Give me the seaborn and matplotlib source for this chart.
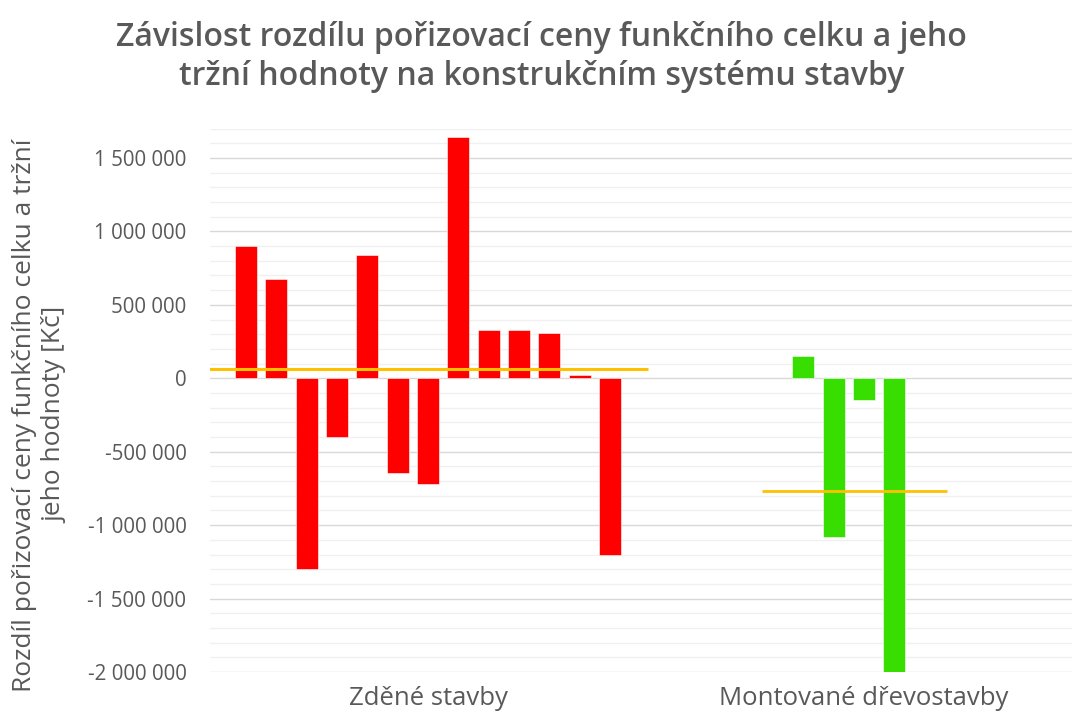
import matplotlib
matplotlib.use("Agg")
import matplotlib.pyplot as plt
import matplotlib.ticker as mticker
import numpy as np
import pandas as pd
import seaborn as sns

# ---- data ----
categories = ["Zděné stavby", "Montované dřevostavby"]
zdene_values = [900000, 675000, -1300000, -400000, 840000, -648000, -719000,
                1646000, 331000, 331000, 311000, 20000, -1204000]
zdene_slots = list(range(13))
drevo_values = [154000, -1084000, -150000, -2000000]
drevo_slots = [4, 5, 6, 7]
title_text = ("Závislost rozdílu pořizovací ceny funkčního celku a jeho\n"
              "tržní hodnoty na konstrukčním systému stavby")
ylabel_text = "Rozdíl pořizovací ceny funkčního celku a tržní\njeho hodnoty [Kč]"

red = "#FF0000"
green = "#37DE00"
orange = "#FFC000"
text_gray = "#595959"

df = pd.DataFrame({
    "kategorie": [categories[0]] * len(zdene_values) + [categories[1]] * len(drevo_values),
    "slot": zdene_slots + drevo_slots,
    "hodnota": zdene_values + drevo_values,
})

sns.set_theme(style="white")
plt.rcParams["font.family"] = ["Open Sans", "DejaVu Sans"]

fig = plt.figure(figsize=(10.72, 7.22), dpi=100)
ax = fig.add_axes([210 / 1072, 1 - 672 / 722, 872 / 1072, (672 - 128.6) / 722])

sns.barplot(data=df, x="kategorie", y="hodnota", hue="slot", order=categories,
            hue_order=list(range(13)), dodge=True, width=0.905, gap=0.27,
            legend=False, ax=ax, errorbar=None, zorder=3)

for p in ax.patches:
    cx = p.get_x() + p.get_width() / 2
    col = red if cx < 0.5 else green
    p.set_facecolor(col)
    p.set_edgecolor("#ffffff")
    p.set_linewidth(0.4)

# averages
ax.hlines(np.mean(zdene_values), -0.505, 0.505, color=orange, lw=2.2, zorder=4)
ax.hlines(np.mean(drevo_values), 1 - 0.235, 1 + 0.19, color=orange, lw=2.0, zorder=4)

ax.set_xlim(-0.5, 1.5)
ax.set_ylim(-2000000, 1700000)
ax.yaxis.set_major_locator(mticker.MultipleLocator(500000))
ax.yaxis.set_minor_locator(mticker.MultipleLocator(100000))
ax.yaxis.set_major_formatter(mticker.FuncFormatter(
    lambda v, pos: f"{int(round(v)):,}".replace(",", " ")))
ax.grid(axis="y", which="major", color="#d9d9d9", lw=1.0, zorder=0)
ax.grid(axis="y", which="minor", color="#f0f0f0", lw=1.0, zorder=0)
ax.grid(axis="x", visible=False)
for s in ax.spines.values():
    s.set_visible(False)
ax.tick_params(axis="both", which="both", length=0)
ax.tick_params(axis="y", labelsize=14.8, labelcolor=text_gray, pad=17)
ax.tick_params(axis="x", labelsize=18.5, labelcolor=text_gray, pad=10)
ax.set_xlabel("")
ax.set_ylabel("")

fig.text(40 / 1072, 1 - 415 / 722, ylabel_text, rotation=90, ha="center",
         va="center", multialignment="center", fontsize=19, color=text_gray,
         linespacing=1.3)
fig.text(0.505, 1 - 57 / 722, title_text, ha="center", va="center",
         multialignment="center", fontsize=23, fontweight="semibold",
         color=text_gray, linespacing=1.25)

fig.savefig("out.png", dpi=100)
